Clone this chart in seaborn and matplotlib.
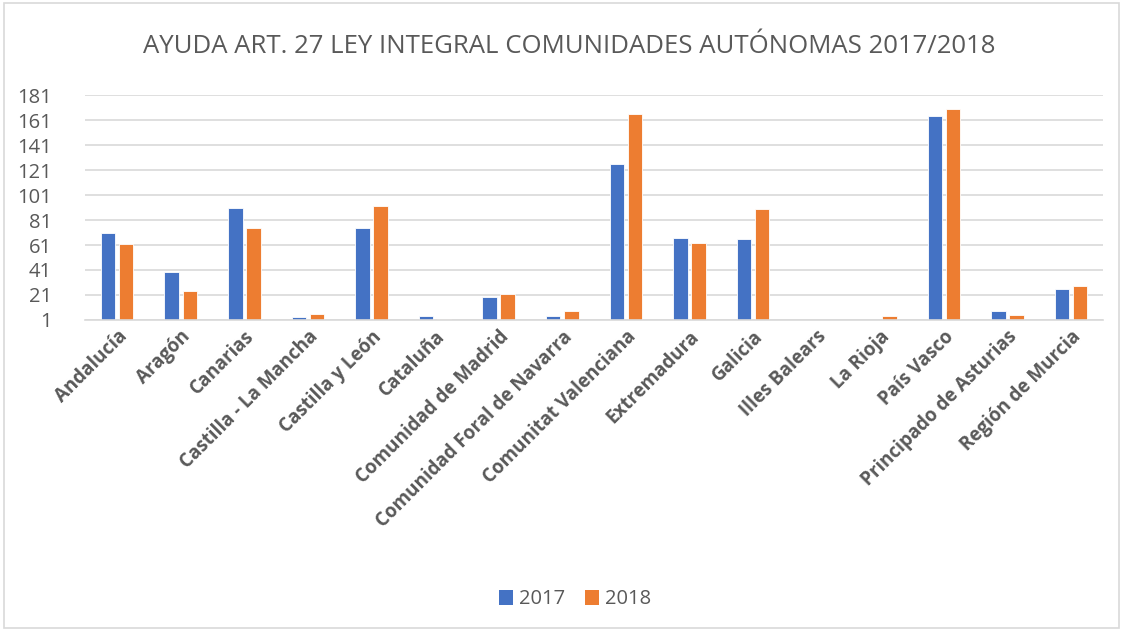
import matplotlib
matplotlib.use("Agg")
import matplotlib.pyplot as plt
import seaborn as sns
import pandas as pd
from matplotlib.patches import Rectangle, Patch

categories = ["Andalucía", "Aragón", "Canarias", "Castilla - La Mancha", "Castilla y León",
              "Cataluña", "Comunidad de Madrid", "Comunidad Foral de Navarra",
              "Comunitat Valenciana", "Extremadura", "Galicia", "Illes Balears",
              "La Rioja", "País Vasco", "Principado de Asturias", "Región de Murcia"]
values_2017 = [71, 39, 91, 3, 75, 4, 19, 4, 126, 67, 66, 1, 1, 164, 8, 26]
values_2018 = [62, 24, 75, 6, 92, 2, 22, 8, 166, 63, 90, 0, 4, 170, 5, 28]
series = ["2017", "2018"]
yticks = [1, 21, 41, 61, 81, 101, 121, 141, 161, 181]

df = pd.DataFrame({
    "Comunidad": categories * 2,
    "Año": [series[0]] * len(categories) + [series[1]] * len(categories),
    "Valor": values_2017 + values_2018,
})

sns.set_theme(style="white")
plt.rcParams["font.family"] = ["Open Sans", "DejaVu Sans"]

text_color = "#595959"
colors = {"2017": "#4472C4", "2018": "#ED7D31"}

fig = plt.figure(figsize=(11.23, 6.31), dpi=100)
ax = fig.add_axes([0.076, 0.493, 0.906, 0.356])

sns.barplot(data=df, x="Comunidad", y="Valor", hue="Año", palette=colors,
            saturation=1, width=0.57, gap=0.2, edgecolor="white", linewidth=0.6,
            ax=ax, legend=False)

ax.set_ylim(1, 181)
ax.set_yticks(yticks)
ax.set_xlim(-0.5, len(categories) - 0.5)
ax.grid(axis="y", color="#D9D9D9", linewidth=1.2)
ax.set_axisbelow(True)
for s in ["top", "right", "left"]:
    ax.spines[s].set_visible(False)
ax.spines["bottom"].set_color("#D9D9D9")
ax.spines["bottom"].set_linewidth(1.2)

ax.set_xlabel("")
ax.set_ylabel("")
ax.tick_params(axis="y", length=0, labelsize=14.5, labelcolor=text_color, pad=24)
ax.tick_params(axis="x", length=0, labelsize=13.5, labelcolor=text_color, pad=5)
for lbl in ax.get_yticklabels():
    lbl.set_horizontalalignment("right")
ax.set_xticks(range(len(categories)))
ax.set_xticklabels(categories, rotation=45, ha="right", rotation_mode="anchor",
                   fontweight="bold")

fig.text(0.507, 0.927, "AYUDA ART. 27 LEY INTEGRAL COMUNIDADES AUTÓNOMAS 2017/2018",
         ha="center", va="center", fontsize=18.5, color=text_color)

handles = [Patch(facecolor=colors[s], edgecolor="none") for s in series]
fig.legend(handles, series, loc="center", bbox_to_anchor=(0.512, 0.05), ncol=2,
           frameon=False, fontsize=14.5, labelcolor=text_color, handlelength=0.7,
           handleheight=0.75, handletextpad=0.3, columnspacing=1.0)

fig.patches.append(Rectangle((0.004, 0.005), 0.992, 0.99, transform=fig.transFigure,
                             fill=False, edgecolor="#D9D9D9", linewidth=1.2))

fig.savefig("out.png", dpi=100)
